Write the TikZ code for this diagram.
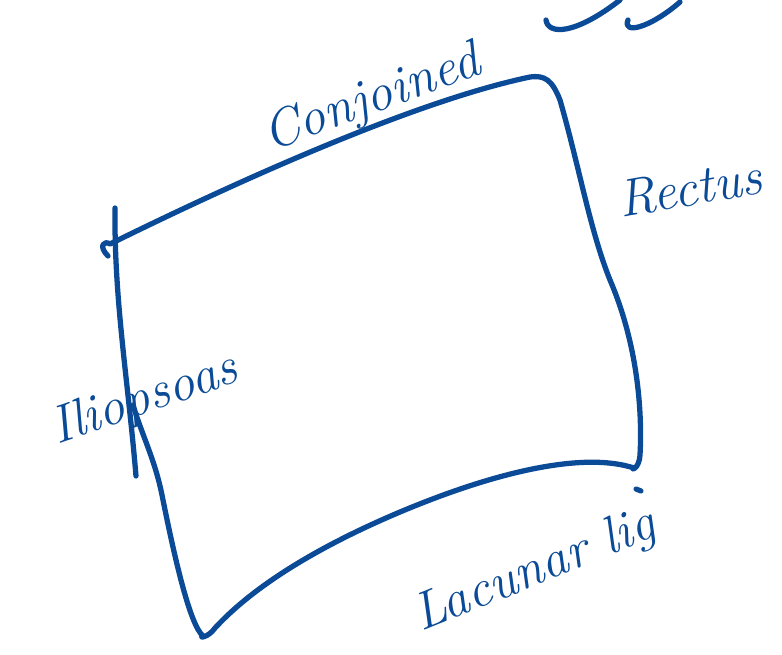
\documentclass[tikz,border=0pt]{standalone}
\usepackage{xcolor}
\usepackage{tikz}
\usetikzlibrary{positioning}

\definecolor{inkblue}{RGB}{10,74,150}

\begin{document}
\begin{tikzpicture}[
    x=0.02cm, y=-0.02cm,
    side/.style={draw=inkblue, line width=3pt, line cap=round, line join=round},
    label/.style={text=inkblue, font=\fontsize{30}{36}\selectfont\itshape, inner sep=0pt},
]
    \useasboundingbox (0,0) rectangle (782,654);

    % Corners
    \coordinate (TopLeft)  at (110,244);
    \coordinate (TopRight) at (548,80);
    \coordinate (BotRight) at (634,468);
    \coordinate (BotLeft)  at (203,636);

    % Sides
    \draw[side] (108,256) .. controls (98,246) and (104,240) .. (TopLeft)
        .. controls (250,175) and (420,100) .. (530,77)
        .. controls (545,75) and (552,80) .. (560,100)
        .. controls (580,170) and (590,230) .. (610,280)
        .. controls (640,350) and (642,420) .. (640,455)
        .. controls (639,470) and (630,470) .. (BotRight);
    \draw[side] (BotRight) .. controls (585,452) and (500,470) .. (400,512)
        .. controls (310,550) and (250,590) .. (215,628)
        .. controls (208,638) and (198,638) .. (BotLeft)
        .. controls (190,625) and (175,560) .. (162,495)
        .. controls (155,460) and (142,435) .. (133,405);
    \draw[side] (115,208) .. controls (114,300) and (128,380) .. (136,476);
    \draw[side] (636,489) -- (641,491);

    % Cut-off writing at the top
    \draw[side] (546,20) .. controls (548,35) and (575,35) .. (620,0);
    \draw[side] (628,20) .. controls (622,35) and (650,28) .. (680,2);

    % Labels
    \node[label, rotate=20] (Conjoined) at (372,100) {Conjoined};
    \node[label, rotate=10] (Rectus)    at (690,188) {Rectus};
    \node[label, rotate=19] (Iliopsoas) at (145,400) {Iliopsoas};
    \node[label, rotate=22] (Lacunar)   at (535,572) {Lacunar lig};

\end{tikzpicture}
\end{document}
